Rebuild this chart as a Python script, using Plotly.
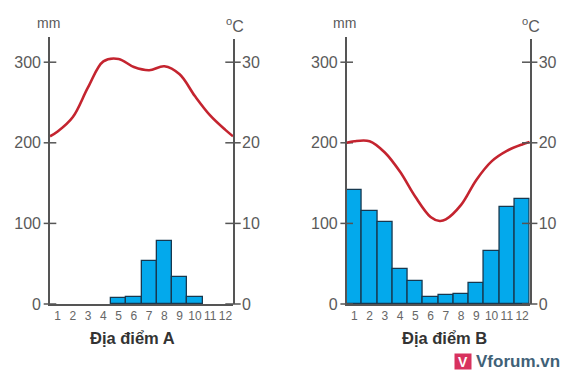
import plotly.graph_objects as go

months = list(range(1, 13))
rain_a = [0, 0, 0, 0, 7, 9, 53, 78, 34, 9, 0, 0]
rain_b = [141, 115, 102, 43, 28, 9, 11, 13, 26, 66, 120, 130]
temp_x = [0.5, 1, 2, 3, 4, 5, 6, 7, 8, 9, 10, 11, 12, 12.5]
temp_a = [20.8, 21.4, 23.2, 26.9, 30.1, 30.4, 29.4, 29.0, 29.5, 28.5, 25.8, 23.4, 21.6, 20.8]
temp_x_b = [0.5, 1, 2, 3, 4, 5, 6, 6.6, 7, 8, 9, 10, 11, 12, 12.5]
temp_b = [20.0, 20.2, 20.2, 18.8, 16.4, 13.3, 10.8, 10.3, 10.5, 12.3, 15.4, 17.7, 19.0, 19.8, 20.1]
rain_ticks = [0, 100, 200, 300]
temp_ticks = [0, 10, 20, 30]
panel_titles = ["Địa điểm A", "Địa điểm B"]

W, H = 564, 373
AXC = "#555555"
TXT = "#5a5a5a"
FONT = "Liberation Sans"
fig = go.Figure()


def px(x):
    return x / W


def py(y):
    return 1 - y / H


panels = [
    (50, 233, rain_a, temp_x, temp_a, "", "2", "x", "y", "y2", 132),
    (346.7, 529.7, rain_b, temp_x_b, temp_b, "3", "4", "x2", "y3", "y4", 444.7),
]
layout = {}
for idx, (x0, x1, rain, tx, temp, yl, yr, xref, yref_l, yref_r, title_x) in enumerate(panels):
    wet = [(m, v) for m, v in zip(months, rain) if v > 0]
    fig.add_bar(x=[m for m, _ in wet], y=[v for _, v in wet], xaxis=xref, yaxis=yref_l, width=1,
                showlegend=False,
                marker=dict(color="#03a9ec", line=dict(color="#17384f", width=1.3)))
    fig.add_scatter(x=tx, y=temp, xaxis=xref, yaxis=yref_r, mode="lines", showlegend=False,
                    line=dict(color="#c4242f", width=2.6, shape="spline", smoothing=1.0))
    fig.add_scatter(x=[0.5] * 4, y=rain_ticks, xaxis=xref, yaxis=yref_l, mode="markers",
                    showlegend=False, cliponaxis=False,
                    marker=dict(symbol="line-ew", size=9, line=dict(color=AXC, width=1.5)))
    fig.add_scatter(x=[12.5] * 4, y=temp_ticks, xaxis=xref, yaxis=yref_r, mode="markers",
                    showlegend=False, cliponaxis=False,
                    marker=dict(symbol="line-ew", size=11, line=dict(color=AXC, width=1.5)))
    xname = "xaxis" if xref == "x" else "xaxis2"
    layout[xname] = dict(domain=[px(x0), px(x1)], range=[0.5, 12.5], anchor=yref_l,
                         automargin=False,
                         tickmode="array", tickvals=months, ticks="", ticklen=0,
                         showgrid=False, zeroline=False,
                         showline=True, linecolor=AXC, linewidth=1.6,
                         tickfont=dict(family=FONT, size=12, color="#666666"))
    common = dict(showgrid=False, zeroline=False, showline=True, linecolor=AXC, linewidth=1.6,
                  automargin=False,
                  ticks="outside", ticklen=4, tickcolor="rgba(0,0,0,0)", tickmode="array",
                  tickfont=dict(family=FONT, size=16, color=TXT))
    layout["yaxis" + (yl if yl else "")] = dict(
        domain=[py(304), py(37)], range=[0, (304 - 37) / 0.806], anchor=xref, side="left",
        tickvals=rain_ticks, **common)
    layout["yaxis" + yr] = dict(
        domain=[py(304), py(39)], range=[0, (304 - 39) / 8.06], anchor=xref, side="right",
        tickvals=temp_ticks, **common)

    for text, ax, ay, size, color, bold in [
        ("mm", x0 - 2, 23, 14, TXT, False),
        ("<sup>o</sup>C", x1 + 1.5, 25, 16, TXT, False),
        (panel_titles[idx], title_x, 338, 16.5, "#333333", True),
    ]:
        fig.add_annotation(xref="paper", yref="paper", x=px(ax), y=py(ay), showarrow=False,
                           xanchor="center", yanchor="middle",
                           text=f"<b>{text}</b>" if bold else text,
                           font=dict(family=FONT, size=size, color=color))

fig.add_annotation(xref="paper", yref="paper", x=px(463), y=py(361.5), showarrow=False,
                   xanchor="center", yanchor="middle",
                   text="<b>V</b>", bgcolor="#d8325e", borderpad=0, width=16, height=15,
                   font=dict(family=FONT, size=14, color="#ffffff"))
fig.add_annotation(xref="paper", yref="paper", x=px(517.5), y=py(361), showarrow=False,
                   xanchor="center", yanchor="middle",
                   text="<b>Vforum.vn</b>",
                   font=dict(family=FONT, size=17, color="#3f6177"))

fig.update_layout(width=W, height=H, autosize=False, margin=dict(l=0, r=0, t=0, b=0),
                  template="none", paper_bgcolor="white", plot_bgcolor="rgba(0,0,0,0)", bargap=0,
                  showlegend=False, **layout)
fig.write_html("out.html", config={"displayModeBar": False},
               post_script="document.body.style.margin='0';")
